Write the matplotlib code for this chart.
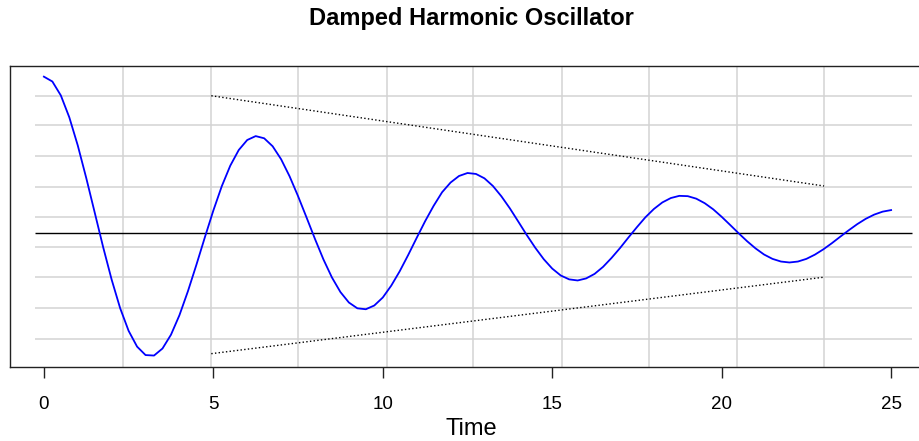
import numpy as np
import matplotlib.pyplot as plt

plt.rcParams["font.family"] = ["Liberation Sans", "DejaVu Sans"]

# Displacement, every 0.25 time units
time = np.arange(0, 25.01, 0.25)
displacement = [
    1.000, 0.969, 0.880, 0.740, 0.560, 0.352, 0.131, -0.091,
    -0.298, -0.480, -0.625, -0.726, -0.780, -0.783, -0.738, -0.650,
    -0.525, -0.372, -0.203, -0.027, 0.144, 0.300, 0.431, 0.531,
    0.595, 0.620, 0.606, 0.555, 0.472, 0.363, 0.236, 0.100,
    -0.038, -0.169, -0.284, -0.377, -0.444, -0.481, -0.487, -0.463,
    -0.412, -0.336, -0.244, -0.140, -0.031, 0.076, 0.174, 0.261,
    0.323, 0.365, 0.384, 0.378, 0.350, 0.301, 0.235, 0.158,
    0.073, -0.013, -0.094, -0.167, -0.227, -0.271, -0.296, -0.303,
    -0.290, -0.261, -0.216, -0.159, -0.096, -0.028, 0.038, 0.101,
    0.154, 0.196, 0.224, 0.238, 0.236, 0.220, 0.191, 0.152,
    0.104, 0.052, -0.001, -0.052, -0.098, -0.137, -0.165, -0.182,
    -0.188, -0.182, -0.165, -0.138, -0.104, -0.065, -0.023, 0.018,
    0.057, 0.091, 0.118, 0.137, 0.147,
]

# Dotted guide lines (start, end)
upper_x = [4.94, 23.02]
upper_y = [0.878, 0.301]
lower_x = [4.94, 23.02]
lower_y = [-0.771, -0.282]

# Grid positions
grid_x = [2.33, 4.94, 7.50, 10.11, 12.67, 15.28, 17.85, 20.44, 23.02]
grid_y = [0.878, 0.689, 0.493, 0.296, 0.103, -0.087, -0.282, -0.481, -0.677]
grid_x_span = (-0.275, 25.62)

xticks = [0, 5, 10, 15, 20, 25]

fig = plt.figure(figsize=(9.19, 4.41), dpi=100)
ax = fig.add_axes([0.01088, 0.16848, 0.99565, 0.68299])

ax.vlines(grid_x, 0, 1, transform=ax.get_xaxis_transform(),
          color="#d3d3d3", lw=1.1, zorder=1)
ax.hlines(grid_y, *grid_x_span, color="#d3d3d3", lw=1.1, zorder=1)
ax.hlines(0, *grid_x_span, color="black", lw=1.0, zorder=2)

ax.plot(time, displacement, color="blue", lw=1.3, zorder=3)
ax.plot(upper_x, upper_y, color="black", ls=":", lw=1.0, zorder=3)
ax.plot(lower_x, lower_y, color="black", ls=":", lw=1.0, zorder=3)

# R-style 4% padding around the data range
span_t = time[-1] - time[0]
ax.set_xlim(time[0] - 0.04 * span_t, time[-1] + 0.04 * span_t)
lo, hi = min(displacement), max(displacement)
ax.set_ylim(lo - 0.04 * (hi - lo), hi + 0.04 * (hi - lo))

ax.set_xticks(xticks)
ax.set_xticklabels([str(v) for v in xticks], fontsize=13.5)
ax.tick_params(axis="x", length=8, width=1, pad=13, color="#222222")
ax.set_yticks([])

for side in ["left", "top", "bottom", "right"]:
    ax.spines[side].set_color("#222222")
    ax.spines[side].set_linewidth(1.0)

ax.set_xlabel("Time", fontsize=17, va="center")
ax.xaxis.set_label_coords(0.504, -0.207)

fig.text(471 / 919, 1 - 19 / 441, "Damped Harmonic Oscillator",
         ha="center", va="center", fontsize=17, fontweight="bold")

plt.savefig("out.png", dpi=100)
